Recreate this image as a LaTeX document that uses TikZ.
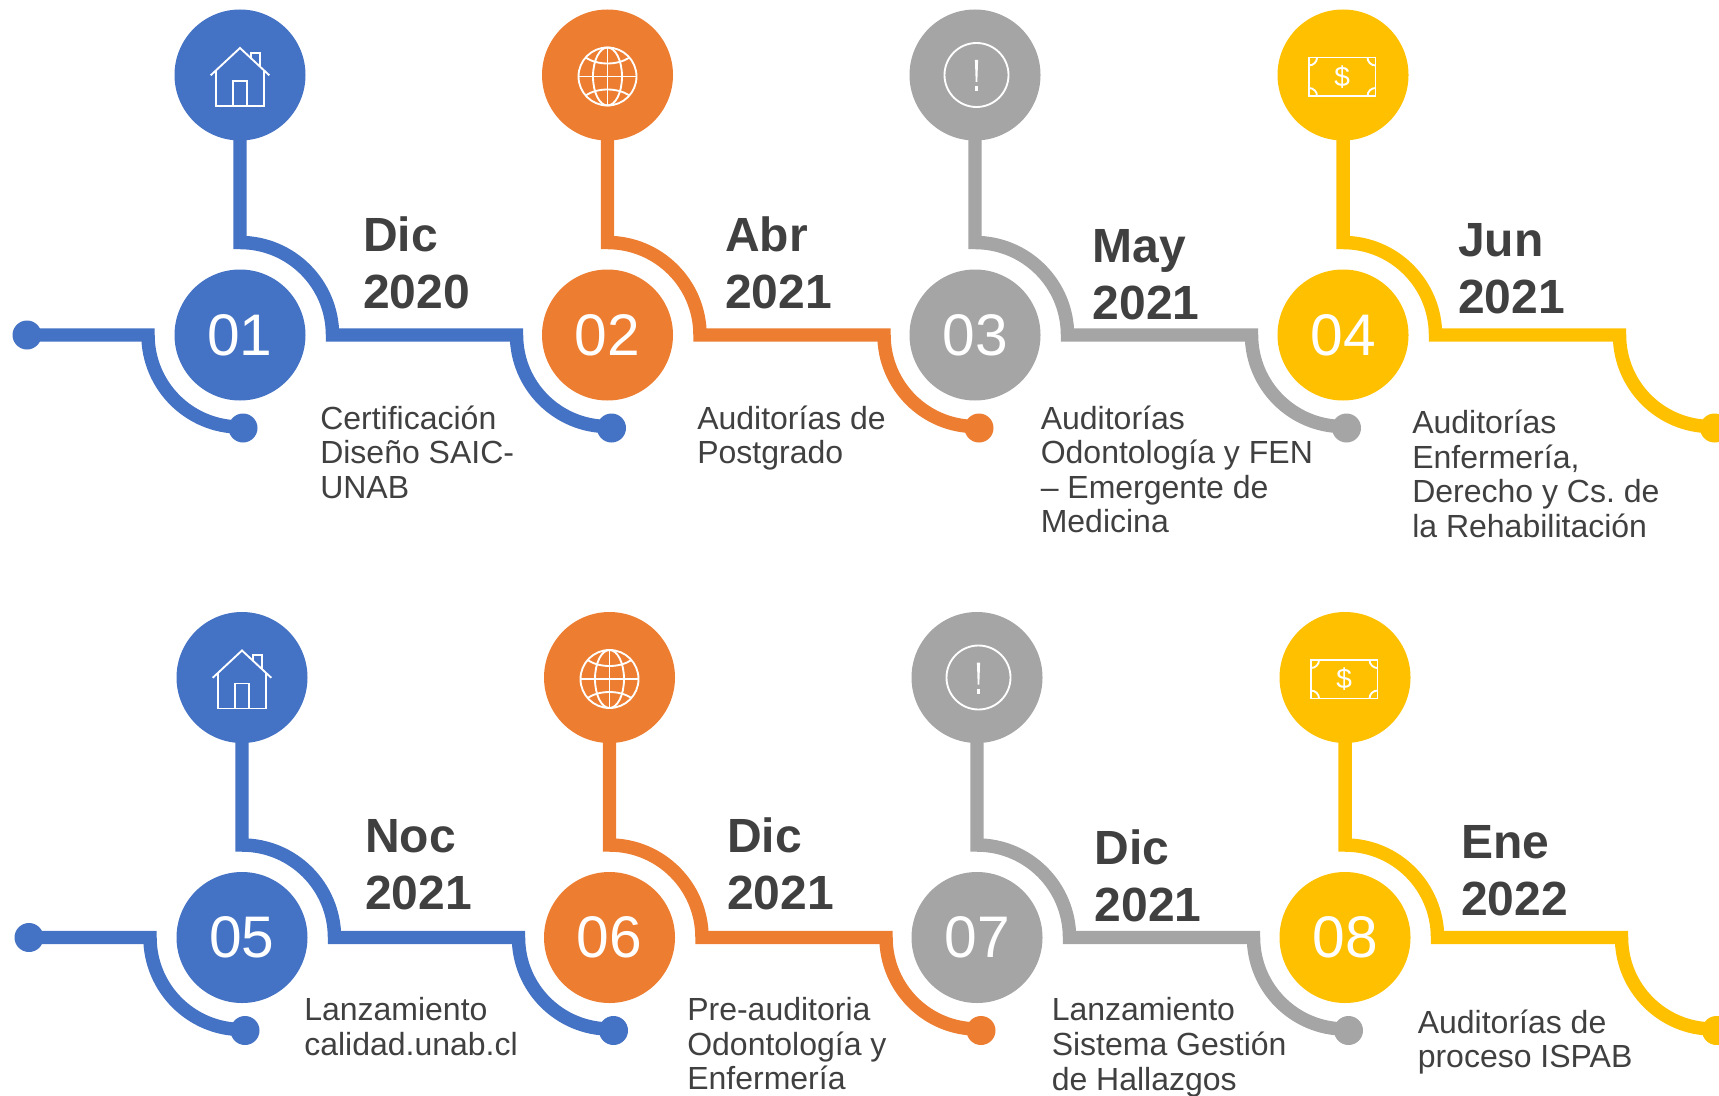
\documentclass[tikz,border=0pt]{standalone}
\usepackage{fontspec}
\setmainfont{Liberation Sans}
\frenchspacing
\definecolor{cblue}{HTML}{4472C4}
\definecolor{corange}{HTML}{ED7D31}
\definecolor{cgrey}{HTML}{A5A5A5}
\definecolor{cgold}{HTML}{FFC000}
\definecolor{ctext}{HTML}{404040}
\newcommand\tophi{\rule{0pt}{27pt}}
\newcommand\topbody{\rule{0pt}{17pt}}
\tikzset{
  disc/.style={circle,fill=#1,draw=none,minimum size=98.25pt,inner sep=0pt,text=white,font=\fontsize{44}{50}\selectfont},
  enddot/.style={circle,fill=#1,draw=none,minimum size=21.75pt,inner sep=0pt},
  band/.style={draw=#1,line width=10.1pt,line join=miter},
  glyph/.style={draw=white,line width=1.4pt,line join=miter},
  datelabel/.style={anchor=north west,inner sep=0pt,align=left,text=ctext,font=\bfseries\fontsize{36}{42.75}\selectfont},
  bodylabel/.style={anchor=north west,inner sep=0pt,align=left,text=ctext,font=\fontsize{24}{25.9}\selectfont},
}
% icons: drawn around the centre of the top disc
\newcommand\iconhouse{%
  \draw[glyph] (-29.3,-0.3) -- (0,27) -- (29.3,-0.3);
  \draw[glyph] (-24,4.9) -- (-24,-31) -- (24,-31) -- (24,4.9);
  \draw[glyph] (-7.3,-31) -- (-7.3,-6) -- (7.3,-6) -- (7.3,-31);
  \draw[glyph] (10.7,17.1) -- (10.7,22.3) -- (20,22.3) -- (20,8.6);
}
\newcommand\iconglobe{%
  \begin{scope}[shift={(0,-1.5)}]
  \draw[glyph] (0,0) circle[radius=29];
  \draw[glyph] (0,0) ellipse[x radius=14.5,y radius=29];
  \draw[glyph] (0,29) -- (0,-29);
  \draw[glyph] (-29,0) -- (29,0);
  \draw[glyph] (-22,19) .. controls (-10,11) and (10,11) .. (22,19);
  \draw[glyph] (-22,-19) .. controls (-10,-11) and (10,-11) .. (22,-19);
  \end{scope}
}
\newcommand\iconalert{%
  \begin{scope}[shift={(1.5,0)}]
  \draw[glyph] (0,0) circle[radius=32];
  \fill[white] (-1.6,15) -- (1.6,15) -- (0.8,-7) -- (-0.8,-7) -- cycle;
  \fill[white] (-1.6,-11) rectangle (1.6,-16);
  \end{scope}
}
\newcommand\iconmoney[1]{%
  \begin{scope}
  \draw[glyph] (-34,17.5) rectangle (32.5,-21);
  \draw[glyph] (-26,17.5) arc[start angle=0,end angle=-90,radius=8];
  \draw[glyph] (24.5,17.5) arc[start angle=180,end angle=270,radius=8];
  \draw[glyph] (-26,-21) arc[start angle=0,end angle=90,radius=8];
  \draw[glyph] (24.5,-21) arc[start angle=180,end angle=90,radius=8];
  \node[inner sep=0pt,text=white,font=\fontsize{21}{24}\selectfont] (#1) at (-0.8,-1.8) {\$};
  \end{scope}
}
% #1 id, #2 x, #3 y of number disc, #4 colour, #5 icon, #6 number
\newcommand\unitblock[6]{%
  \begin{scope}[shift={(#2,-#3)}]
    \node[disc=#4] (top#1) at (0,260) {};
    \node[disc=#4] (num#1) at (0,0) {\raisebox{-1.7pt}{#6}};
    \node[enddot=#4] (end#1) at (371.5,-93) {};
    \coordinate (bendA#1) at (0,92.5);
    \coordinate (bendB#1) at (276.5,0);
    \draw[band=#4,shorten <=-1pt] (top#1.south) -- (bendA#1)
       arc[start angle=90,end angle=0,radius=92.5]
       -- (bendB#1)
       arc[start angle=180,end angle=270,radius=91.5]
       -- (end#1.center);
    \begin{scope}[shift={(0,260)}]#5\end{scope}
  \end{scope}
}
% lead-in piece of each row
\newcommand\leadin[3]{%
  \begin{scope}[shift={(#2,-#3)}]
    \node[enddot=cblue] (startL#1) at (-213,0) {};
    \node[enddot=cblue] (startR#1) at (3,-93) {};
    \coordinate (bendC#1) at (-92,0);
    \draw[band=cblue] (startL#1.center) -- (bendC#1)
       arc[start angle=180,end angle=270,radius=92]
       -- (startR#1.center);
  \end{scope}
}
\begin{document}
\begin{tikzpicture}[x=0.75pt,y=0.75pt]
\useasboundingbox (0,-1095) rectangle (1719,0);
% first row
\leadin{a}{240}{335}
\unitblock{1}{240}{335}{cblue}{\iconhouse}{01}
\unitblock{2}{607.5}{335}{corange}{\iconglobe}{02}
\unitblock{3}{975}{335}{cgrey}{\iconalert}{03}
\unitblock{4}{1343}{335}{cgold}{\iconmoney{usd4}}{04}
% second row
\leadin{b}{242}{937.5}
\unitblock{5}{242}{937.5}{cblue}{\iconhouse}{05}
\unitblock{6}{609.5}{937.5}{corange}{\iconglobe}{06}
\unitblock{7}{977}{937.5}{cgrey}{\iconalert}{07}
\unitblock{8}{1345}{937.5}{cgold}{\iconmoney{usd8}}{08}
% dates
\node[datelabel] (d1) at (363,-215) {\tophi Dic\\2020};
\node[datelabel] (d2) at (725,-215) {\tophi Abr\\2021};
\node[datelabel] (d3) at (1092.5,-226.5) {\tophi May\\2021};
\node[datelabel] (d4) at (1458,-220.5) {\tophi Jun\\2021};
\node[datelabel] (d5) at (365,-816) {\tophi Noc\\2021};
\node[datelabel] (d6) at (727,-816) {\tophi Dic\\2021};
\node[datelabel] (d7) at (1094.5,-828) {\tophi Dic\\2021};
\node[datelabel] (d8) at (1461,-822) {\tophi Ene\\2022};
% descriptions
\node[bodylabel] (t1) at (320,-405.3) {\topbody Certificación\\Diseño SAIC-\\UNAB};
\node[bodylabel] (t2) at (697,-405.3) {\topbody Auditorías de\\Postgrado};
\node[bodylabel] (t3) at (1040.5,-405.3) {\topbody Auditorías\\Odontología y FEN\\– Emergente de\\Medicina};
\node[bodylabel] (t4) at (1412,-409.7) {\topbody Auditorías\\Enfermería,\\Derecho y Cs. de\\la Rehabilitación};
\node[bodylabel] (t5) at (304,-997.5) {\topbody Lanzamiento\\calidad.unab.cl};
\node[bodylabel] (t6) at (687,-997) {\topbody Pre-auditoria\\Odontología y\\Enfermería};
\node[bodylabel] (t7) at (1051.5,-997.5) {\topbody Lanzamiento\\Sistema Gestión\\de Hallazgos};
\node[bodylabel] (t8) at (1417.5,-1009.5) {\topbody Auditorías de\\proceso ISPAB};
\end{tikzpicture}
\end{document}
